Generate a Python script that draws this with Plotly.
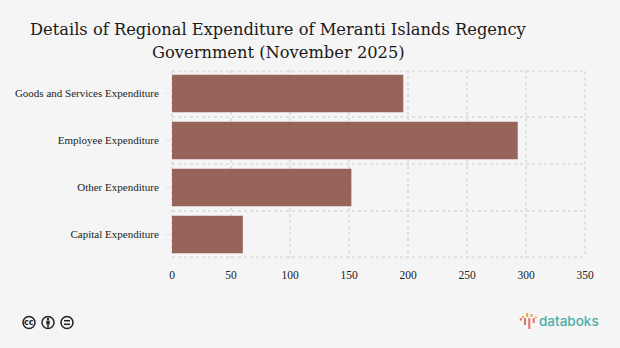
import plotly.graph_objects as go

categories = ["Goods and Services Expenditure", "Employee Expenditure", "Other Expenditure", "Capital Expenditure"]
values = [196, 293, 152, 60]
x_ticks = [0, 50, 100, 150, 200, 250, 300, 350]
boundaries = [-0.5, 0.5, 1.5, 2.5, 3.5]
title_lines = ["Details of Regional Expenditure of Meranti Islands Regency", "Government (November 2025)"]
title_line_y = [29, 53]

W, H = 620, 348
ML, MR, MT, MB = 172, 35, 70, 90
BG = "#f5f5f5"
GRID = "#e0e0e0"
DASH = "3px,3px"

# Page pixels to Plotly paper coordinates (which are relative to the plot area)
def px(x): return (x - ML) / (W - ML - MR)
def py(y): return 1 - (y - MT) / (H - MT - MB)

fig = go.Figure(go.Bar(x=values, y=categories, orientation="h",
                       marker=dict(color="#8a5046", opacity=0.88, line=dict(width=0))))

shapes = []
# Frame grid lines at the plot edges, which Plotly's own grid leaves out
for yy in (71.2, 257.3):
    shapes.append(dict(type="line", xref="paper", yref="paper", x0=px(172), x1=px(585), y0=py(yy), y1=py(yy),
                       layer="below", line=dict(color=GRID, width=2, dash=DASH)))
for xx in (172, 585):
    shapes.append(dict(type="line", xref="paper", yref="paper", x0=px(xx), x1=px(xx), y0=py(71.2), y1=py(257.3),
                       layer="below", line=dict(color=GRID, width=2, dash=DASH)))

# Licence badges
BADGE = "#222222"
for cx in (29, 48, 67):
    shapes.append(dict(type="circle", xref="paper", yref="paper", x0=px(cx - 6), x1=px(cx + 6),
                       y0=py(322.5 + 6), y1=py(322.5 - 6), line=dict(color=BADGE, width=1.5)))
# person
shapes.append(dict(type="circle", xref="paper", yref="paper", x0=px(46.8), x1=px(49.2), y0=py(320.2), y1=py(317.8),
                   fillcolor=BADGE, line=dict(width=0)))
shapes.append(dict(type="rect", xref="paper", yref="paper", x0=px(46.3), x1=px(49.7), y0=py(324.5), y1=py(320.6),
                   fillcolor=BADGE, line=dict(width=0)))
shapes.append(dict(type="rect", xref="paper", yref="paper", x0=px(47.2), x1=px(48.8), y0=py(327.5), y1=py(324.5),
                   fillcolor=BADGE, line=dict(width=0)))
# equals
for yy in (320.7, 324.3):
    shapes.append(dict(type="line", xref="paper", yref="paper", x0=px(64), x1=px(70), y0=py(yy), y1=py(yy),
                       line=dict(color=BADGE, width=1.5)))

# Databoks logo mark
ORANGE, RED = "#eba04e", "#e56f66"
logo_bars = [(520.8, 318, 320.5, RED), (523, 316, 318, ORANGE), (525, 318, 325, RED), (527.2, 313, 317, ORANGE),
             (529.3, 318, 329, RED), (531.5, 314, 317, ORANGE), (533.7, 318, 323, RED), (535.8, 316.5, 318, ORANGE)]
for lx, y0, y1, col in logo_bars:
    shapes.append(dict(type="line", xref="paper", yref="paper", x0=px(lx), x1=px(lx), y0=py(y0), y1=py(y1),
                       line=dict(color=col, width=2)))

annotations = [
    dict(text=t, xref="paper", yref="paper", x=px(278), y=py(ly), xanchor="center", yanchor="middle",
         showarrow=False, font=dict(family="DejaVu Serif", size=16.3, color="#1a1a1a"))
    for t, ly in zip(title_lines, title_line_y)
]
annotations.append(dict(text="cc", xref="paper", yref="paper", x=px(29), y=py(322), xanchor="center", yanchor="middle",
                        showarrow=False, font=dict(family="DejaVu Sans", size=8, color=BADGE, weight="bold")))
annotations.append(dict(text="databoks", xref="paper", yref="paper", x=px(536.5), y=py(321), xanchor="left",
                        yanchor="middle", showarrow=False,
                        font=dict(family="Inter", size=13.5, color="#4aafab", weight=500)))

fig.update_layout(
    width=W, height=H, autosize=False, paper_bgcolor=BG, plot_bgcolor=BG,
    margin=dict(l=ML, r=MR, t=MT, b=MB, autoexpand=False), bargap=0.205, showlegend=False,
    font=dict(family="Liberation Serif", color="#222222", size=11),
    shapes=shapes, annotations=annotations,
)
fig.update_xaxes(range=[0, 350], tickvals=x_ticks, showgrid=True, gridcolor=GRID, griddash=DASH,
                 gridwidth=2, zeroline=False, showline=False, ticks="outside", ticklen=6,
                 tickcolor="rgba(0,0,0,0)", tickfont=dict(size=11.5, color="#222222"))
fig.update_yaxes(categoryorder="array", categoryarray=categories, range=[3.5, -0.5], showgrid=False,
                 zeroline=False, showline=False, ticks="outside", ticklen=6, tickcolor="#e6e6e6",
                 ticklabelstandoff=4, tickfont=dict(size=11, color="#222222"),
                 minor=dict(tickmode="array", tickvals=boundaries, showgrid=True, gridcolor=GRID,
                            griddash=DASH, gridwidth=2, ticks=""))

fig.write_html("out.html", config={"displayModeBar": False},
               post_script="document.body.style.margin='0';document.body.style.background='#f5f5f5';")
